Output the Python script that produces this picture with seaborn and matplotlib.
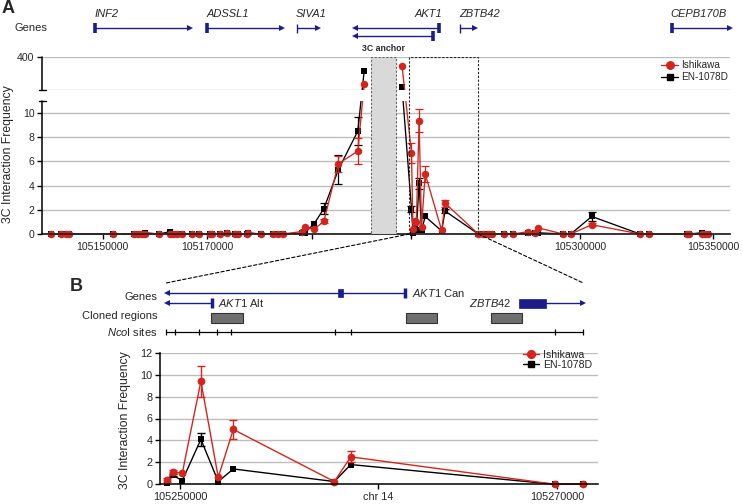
import numpy as np
import pandas as pd
import matplotlib
matplotlib.use("Agg")
import matplotlib.pyplot as plt
import matplotlib.transforms as mtransforms
from matplotlib.lines import Line2D
from matplotlib.patches import Rectangle, ConnectionPatch
import seaborn as sns

# ---------------- Panel A data (chr14 position, kb) ----------------
a_pos = [105133.1, 105136.3, 105137.9, 105139.0, 105153.3, 105160.4, 105161.7, 105162.8,
         105163.9, 105168.5, 105172.1, 105173.1, 105174.2, 105175.9, 105179.2, 105181.7,
         105185.2, 105185.7, 105188.4, 105190.6, 105193.4, 105194.4, 105197.2, 105197.7,
         105201.8, 105205.9, 105207.5, 105209.0, 105215.2, 105216.3, 105219.3, 105222.5,
         105227.2, 105233.6, 105235.7, 105248.1, 105251.2, 105251.7, 105252.3, 105252.8,
         105253.7, 105254.5, 105255.7, 105261.1, 105262.2, 105273.1, 105274.7, 105276.4,
         105277.5, 105281.5, 105284.6, 105289.5, 105291.7, 105292.8, 105300.9, 105303.4,
         105310.3, 105326.1, 105329.1, 105341.4, 105342.2, 105346.3, 105347.4, 105348.5]
a_ishikawa = [0, 0, 0, 0, 0, 0, 0, 0,
              0, 0, 0, 0, 0, 0, 0, 0,
              0, 0, 0, 0.05, 0, 0, 0, 0.05,
              0, 0, 0, 0, 0.2, 0.55, 0.4, 1.05,
              5.8, 6.85, 155, 321, 6.7, 0.4, 1.1, 1.0,
              9.35, 0.55, 4.96, 0.3, 2.55, 0, 0, 0,
              0, 0, 0, 0.2, 0.05, 0.5, 0, 0,
              0.77, 0, 0, 0, 0, 0, 0, 0]
a_en1078d = [0, 0, 0, 0, 0, 0, 0, 0,
             0.1, 0, 0.2, 0, 0, 0, 0, 0,
             0, 0, 0, 0.1, 0, 0, 0, 0.1,
             0, 0, 0, 0, 0.05, 0.1, 0.85, 2.1,
             5.3, 8.5, 273, 130, 2.1, 0.1, 0.8, 0.3,
             4.2, 0.3, 1.45, 0.25, 1.9, 0, 0, 0,
             0, 0, 0, 0.05, 0.1, 0.1, 0, 0,
             1.45, 0, 0, 0, 0, 0.1, 0, 0]
a_ishikawa_err = [0, 0, 0, 0, 0, 0, 0, 0,
                  0, 0, 0, 0, 0, 0, 0, 0,
                  0, 0, 0, 0, 0, 0, 0, 0,
                  0, 0, 0, 0, 0, 0, 0, 0.15,
                  0.65, 1.05, 0, 0, 0.8, 0, 0, 0,
                  0.95, 0, 0.7, 0, 0.3, 0, 0, 0,
                  0, 0, 0, 0, 0, 0, 0, 0,
                  0.1, 0, 0, 0, 0, 0, 0, 0]
a_en1078d_err = [0, 0, 0, 0, 0, 0, 0, 0,
                 0, 0, 0, 0, 0, 0, 0, 0,
                 0, 0, 0, 0, 0, 0, 0, 0,
                 0, 0, 0, 0, 0, 0, 0, 0.45,
                 1.2, 1.15, 0, 0, 0.25, 0, 0, 0,
                 0.45, 0, 0, 0, 0.15, 0, 0, 0,
                 0, 0, 0, 0, 0, 0, 0, 0,
                 0.35, 0, 0, 0, 0, 0, 0, 0]
a_xtick_pos = [105150.0, 105184.2, 105306.4, 105350.0]
a_xtick_labels = ["105150000", "105170000", "105300000", "105350000"]
a_xtick_minor = [105218.5, 105251.0]
a_ytick_vals = [0, 2, 4, 6, 8, 10, 400]
anchor_span = (105237.9, 105246.1)
zoom_span = (105250.5, 105273.1)

# genes track A
gene_a_names = ["INF2", "ADSSL1", "SIVA1", "AKT1", "", "ZBTB42", "CEPB170B"]
gene_a_tss = [105147.5, 105184.3, 105213.6, 105260.3, 105258.1, 105267.1, 105336.5]
gene_a_end = [105178.6, 105208.7, 105220.6, 105232.7, 105232.7, 105272.0, 105355.6]
gene_a_row = [0, 0, 0, 0, 1, 0, 0]
gene_a_thick = [True, True, False, True, True, False, True]

# ---------------- Panel B data ----------------
b_pos = [105249.33, 105249.61, 105250.12, 105251.11, 105252.03, 105252.83,
         105258.19, 105259.06, 105269.89, 105271.40]
b_ishikawa = [0.4, 1.15, 1.0, 9.4, 0.64, 5.0, 0.25, 2.5, 0, 0]
b_en1078d = [0.1, 0.85, 0.33, 4.1, 0.25, 1.4, 0.25, 1.8, 0, 0]
b_ishikawa_err = [0.15, 0.15, 0, 1.4, 0, 0.9, 0, 0.5, 0, 0]
b_en1078d_err = [0, 0.1, 0, 0.6, 0, 0, 0, 0, 0, 0]
b_xtick_pos = [105250.0, 105260.5, 105270.0]
b_xtick_labels = ["105250000", "chr 14", "105270000"]
b_ytick_vals = [0, 2, 4, 6, 8, 10, 12]

b_tx_names = ["AKT1|Can", "AKT1|Alt", "ZBTB42"]
b_tx_tss = [105261.94, 105251.68, 105268.0]
b_tx_end = [105249.29, 105249.29, 105271.40]
b_tx_row = [0, 1, 1]
b_exon_start = [105258.40, 105268.0]
b_exon_end = [105258.66, 105269.42]
b_exon_row = [0, 1]
b_cloned_start = [105251.64, 105261.97, 105266.48]
b_cloned_end = [105253.33, 105263.65, 105268.16]
b_nco_sites = [105249.26, 105249.74, 105251.02, 105251.95, 105252.71,
               105258.22, 105259.06, 105269.89, 105271.40]

# ---------------- style ----------------
sns.set_style("white")
plt.rcParams["font.family"] = ["Liberation Sans", "DejaVu Sans"]
plt.rcParams["mathtext.fontset"] = "custom"
plt.rcParams["mathtext.it"] = "Liberation Sans:italic"
plt.rcParams["mathtext.rm"] = "Liberation Sans"
RED = "#d3251d"
BLACK = "#000000"
GRID = "#bdbdbd"
NAVY = "#1c1c8a"

W, H = 743, 504
def fx(px): return px / W
def fy(py): return 1 - py / H
def rect(x0, y0, x1, y1): return [fx(x0), fy(y1), (x1 - x0) / W, (y1 - y0) / H]

fig = plt.figure(figsize=(W / 100, H / 100), dpi=100)

# ---------------- Panel A main ----------------
axA = fig.add_axes(rect(42, 57, 730, 234))
LOW_TOP, UP_BOT = 11.0, 100.0
GAP = 10.9 / 12.1
UPS = (33 / 12.1) / 300.0

def fwd(y):
    y = np.asarray(y, dtype=float)
    return np.where(y <= LOW_TOP, y,
                    np.where(y <= UP_BOT, LOW_TOP + (y - LOW_TOP) / (UP_BOT - LOW_TOP) * GAP,
                             LOW_TOP + GAP + (y - UP_BOT) * UPS))

def inv(z):
    z = np.asarray(z, dtype=float)
    return np.where(z <= LOW_TOP, z,
                    np.where(z <= LOW_TOP + GAP, LOW_TOP + (z - LOW_TOP) / GAP * (UP_BOT - LOW_TOP),
                             UP_BOT + (z - LOW_TOP - GAP) / UPS))

axA.set_yscale("function", functions=(fwd, inv))

dfA = pd.DataFrame({"pos": a_pos, "Ishikawa": a_ishikawa, "EN-1078D": a_en1078d,
                    "err_i": a_ishikawa_err, "err_e": a_en1078d_err})
dfA["side"] = np.where(dfA["pos"] < anchor_span[0], "left", "right")

sns.lineplot(data=dfA, x="pos", y="EN-1078D", units="side", estimator=None, ax=axA,
             color=BLACK, marker="s", markersize=4.8, markeredgewidth=0, linewidth=0.95,
             clip_on=False, zorder=2, sort=False)
m = dfA["err_e"] > 0
axA.errorbar(dfA["pos"][m], dfA["EN-1078D"][m], yerr=dfA["err_e"][m], fmt="none",
             ecolor=BLACK, elinewidth=0.9, capsize=2.8, capthick=0.9, zorder=2.1)
sns.lineplot(data=dfA, x="pos", y="Ishikawa", units="side", estimator=None, ax=axA,
             color=RED, marker="o", markersize=5.4, markeredgewidth=0, linewidth=0.95,
             clip_on=False, zorder=2.5, sort=False)
m = dfA["err_i"] > 0
axA.errorbar(dfA["pos"][m], dfA["Ishikawa"][m], yerr=dfA["err_i"][m], fmt="none",
             ecolor=RED, elinewidth=0.9, capsize=2.8, capthick=0.9, zorder=2.6)

axA.set_xlim(105130.1, 105355.6)
axA.set_ylim(0, 400)
axA.set_xlabel("")
axA.set_ylabel("")
# broken-axis gap
axA.axhspan(LOW_TOP + 0.05, UP_BOT - 2, facecolor="white", edgecolor="none", zorder=2.8)
axA.axhline(UP_BOT, color=GRID, lw=1.0, zorder=0.5)
axA.set_yticks(a_ytick_vals)
axA.set_yticklabels([str(v) for v in a_ytick_vals])
axA.set_xticks(a_xtick_pos)
axA.set_xticklabels(a_xtick_labels)
axA.set_xticks(a_xtick_minor, minor=True)
axA.yaxis.grid(True, color=GRID, lw=1.0)
axA.set_axisbelow(True)
for s in ["top", "right", "left"]:
    axA.spines[s].set_visible(False)
axA.spines["bottom"].set_linewidth(1.3)
axA.tick_params(axis="both", which="both", direction="out", length=3.5, width=1.0,
                labelsize=7.6, pad=2, left=True, bottom=True, color=BLACK)
axA.tick_params(axis="y", which="minor", left=False)
ytr = axA.get_yaxis_transform()
axA.plot([0, 0], [0, LOW_TOP], transform=ytr, color=BLACK, lw=1.1, clip_on=False, zorder=5)
axA.plot([0, 0], [UP_BOT, 400], transform=ytr, color=BLACK, lw=1.1, clip_on=False, zorder=5)
for yb in (LOW_TOP, UP_BOT):
    axA.plot([-0.005, 0.006], [yb, yb], transform=ytr, color=BLACK, lw=1.0,
             clip_on=False, zorder=5)

# anchor and zoom boxes
axA.axvspan(*anchor_span, facecolor="#d9d9d9", edgecolor="#666666", lw=0.8,
            ls=(0, (2, 1.5)), zorder=3)
axA.axvspan(*zoom_span, facecolor="none", edgecolor="#222222", lw=0.8,
            ls=(0, (2, 1.5)), zorder=3)
axA.text(np.mean(anchor_span), 1.025, "3C anchor", transform=axA.get_xaxis_transform(),
         ha="center", va="bottom", fontsize=6.3, fontweight="bold")

legA = axA.legend(handles=[Line2D([0], [0], color=RED, marker="o", ms=5.4, lw=0.95),
                           Line2D([0], [0], color=BLACK, marker="s", ms=4.8, lw=0.95)],
                  labels=["Ishikawa", "EN-1078D"], loc="upper left",
                  bbox_to_anchor=(fx(661), fy(60)), bbox_transform=fig.transFigure,
                  frameon=False, fontsize=7.2, handlelength=1.7, handletextpad=0.35,
                  labelspacing=0.25, borderpad=0, borderaxespad=0)

# ---------------- Panel A gene track ----------------
axAt = fig.add_axes(rect(42, 0, 730, 50), sharex=axA)
axAt.set_ylim(50, 0)
axAt.axis("off")
row_y_a = [28.3, 36.0]
for name, tss, end, row, thick in zip(gene_a_names, gene_a_tss, gene_a_end, gene_a_row, gene_a_thick):
    y = row_y_a[row]
    fwd_strand = end > tss
    axAt.plot([tss, end], [y, y], color=NAVY, lw=1.0, solid_capstyle="butt", clip_on=False)
    axAt.plot([end], [y], marker=">" if fwd_strand else "<", color=NAVY, ms=4.6,
              mew=0, clip_on=False, ls="none")
    if thick:
        axAt.plot([tss, tss], [y - 5, y + 5], color=NAVY, lw=2.6, solid_capstyle="butt")
    else:
        axAt.plot([tss, tss], [y - 4.5, y + 4.5], color=NAVY, lw=1.0, solid_capstyle="butt")
    if name:
        off = mtransforms.offset_copy(axAt.transData, fig=fig,
                                      x=(-1.0 if fwd_strand else 3.0), y=0, units="dots")
        axAt.text(tss, 14, name, transform=off, style="italic", fontsize=8,
                  ha="left" if fwd_strand else "right", va="center")
fig.text(fx(15), fy(28), "Genes", fontsize=8, ha="left", va="center")
fig.text(fx(2), fy(8.5), "A", fontsize=13, fontweight="bold", ha="left", va="center")
fig.text(fx(8), fy(154), "3C Interaction Frequency", rotation=90, fontsize=8.8,
         ha="center", va="center")

# ---------------- Panel B main ----------------
axB = fig.add_axes(rect(160, 352.7, 598, 484.3))
dfB = pd.DataFrame({"pos": b_pos, "Ishikawa": b_ishikawa, "EN-1078D": b_en1078d,
                    "err_i": b_ishikawa_err, "err_e": b_en1078d_err})
sns.lineplot(data=dfB, x="pos", y="EN-1078D", estimator=None, ax=axB, color=BLACK,
             marker="s", markersize=5.0, markeredgewidth=0, linewidth=1.0, clip_on=False,
             zorder=2, sort=False)
m = dfB["err_e"] > 0
axB.errorbar(dfB["pos"][m], dfB["EN-1078D"][m], yerr=dfB["err_e"][m], fmt="none",
             ecolor=BLACK, elinewidth=1.0, capsize=3.0, capthick=1.0, zorder=2.1)
sns.lineplot(data=dfB, x="pos", y="Ishikawa", estimator=None, ax=axB, color=RED,
             marker="o", markersize=5.6, markeredgewidth=0, linewidth=1.0, clip_on=False,
             zorder=2.5, sort=False)
m = dfB["err_i"] > 0
axB.errorbar(dfB["pos"][m], dfB["Ishikawa"][m], yerr=dfB["err_i"][m], fmt="none",
             ecolor=RED, elinewidth=1.0, capsize=3.0, capthick=1.0, zorder=2.6)
axB.set_xlim(105248.94, 105272.18)
axB.set_ylim(0, 12)
axB.set_xlabel("")
axB.set_ylabel("")
axB.set_yticks(b_ytick_vals)
axB.set_xticks(b_xtick_pos)
axB.set_xticklabels(b_xtick_labels)
axB.yaxis.grid(True, color=GRID, lw=1.0)
axB.set_axisbelow(True)
for s in ["top", "right"]:
    axB.spines[s].set_visible(False)
for s in ["left", "bottom"]:
    axB.spines[s].set_linewidth(1.1)
    axB.spines[s].set_color(BLACK)
axB.tick_params(axis="both", direction="out", length=3.5, width=1.0, labelsize=7.8,
                pad=2, left=True, bottom=True, color=BLACK)
legB = axB.legend(handles=[Line2D([0], [0], color=RED, marker="o", ms=5.6, lw=1.0),
                           Line2D([0], [0], color=BLACK, marker="s", ms=5.0, lw=1.0)],
                  labels=["Ishikawa", "EN-1078D"], loc="upper left",
                  bbox_to_anchor=(fx(523), fy(350)), bbox_transform=fig.transFigure,
                  frameon=False, fontsize=7.6, handlelength=1.5, handletextpad=0.4,
                  labelspacing=0.0, borderpad=0, borderaxespad=0)
fig.text(fx(125), fy(420), "3C Interaction Frequency", rotation=90, fontsize=8.8,
         ha="center", va="center")

# ---------------- Panel B gene track ----------------
axBt = fig.add_axes(rect(160, 278, 598, 340), sharex=axB)
axBt.set_ylim(340, 278)
axBt.axis("off")
row_y_b = [292.7, 303.3]
for name, tss, end, row in zip(b_tx_names, b_tx_tss, b_tx_end, b_tx_row):
    y = row_y_b[row]
    fwd_strand = end > tss
    axBt.plot([tss, end], [y, y], color=NAVY, lw=1.0, solid_capstyle="butt")
    axBt.plot([end], [y], marker=">" if fwd_strand else "<", color=NAVY, ms=4.6, mew=0,
              ls="none", clip_on=False)
    gname, extra = (name.split("|") + [""])[:2]
    label = r"$\mathit{" + gname + "}$" + (" " + extra if extra else "")
    if fwd_strand:
        off = mtransforms.offset_copy(axBt.transData, fig=fig, x=-7.5, y=0, units="dots")
        axBt.text(tss, y, label, transform=off, fontsize=8, ha="right", va="center")
    else:
        axBt.plot([tss, tss], [y - 5, y + 5], color=NAVY, lw=2.5, solid_capstyle="butt")
        off = mtransforms.offset_copy(axBt.transData, fig=fig, x=6.5, y=0, units="dots")
        axBt.text(tss, y, label, transform=off, fontsize=8, ha="left", va="center")
for x0, x1, row in zip(b_exon_start, b_exon_end, b_exon_row):
    y = row_y_b[row]
    hh = 4.6 if row == 1 else 4.0
    axBt.add_patch(Rectangle((x0, y - hh), x1 - x0, 2 * hh, facecolor=NAVY,
                             edgecolor=NAVY, lw=0.5))
for x0, x1 in zip(b_cloned_start, b_cloned_end):
    axBt.add_patch(Rectangle((x0, 312.7), x1 - x0, 10.0, facecolor="#6f6f6f",
                             edgecolor="#333333", lw=0.8))
axBt.plot([min(b_nco_sites), max(b_nco_sites)], [331.7, 331.7], color=BLACK, lw=0.9)
axBt.vlines(b_nco_sites, 328.7, 334.7, color=BLACK, lw=0.9)
fig.text(fx(157), fy(296.7), "Genes", fontsize=8, ha="right", va="center")
fig.text(fx(157), fy(315.7), "Cloned regions", fontsize=8, ha="right", va="center")
fig.text(fx(157), fy(331.7), r"$\mathit{Nco}$I sites", fontsize=8, ha="right", va="center")
fig.text(fx(70), fy(286.5), "B", fontsize=13, fontweight="bold", ha="left", va="center")

# zoom connectors
for xa, xb in [(zoom_span[0], min(b_nco_sites)), (zoom_span[1], max(b_nco_sites))]:
    con = ConnectionPatch(xyA=(xa, 0), coordsA=axA.transData,
                          xyB=(xb, 283.0), coordsB=axBt.transData,
                          color=BLACK, lw=0.8, ls=(0, (3, 2)), zorder=1)
    fig.add_artist(con)

fig.savefig("out.png", dpi=100)
